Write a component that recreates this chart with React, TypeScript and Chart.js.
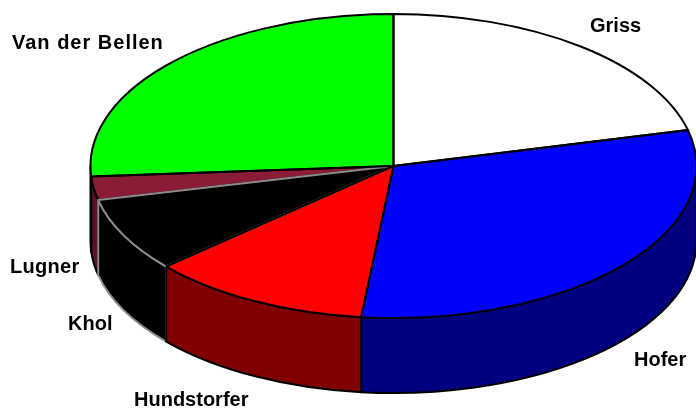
import React, { useEffect, useRef } from "react";
import { Chart, registerables } from "chart.js";

Chart.register(...registerables);

const categories = ["Griss", "Hofer", "Hundstorfer", "Khol", "Lugner", "Van der Bellen"];
const shares = [21.2, 30.5, 11.8, 7.9, 2.5, 26.1];
const topColors = ["#ffffff", "#0000ff", "#ff0000", "#000000", "#8b1c36", "#00ff00"];
const sideColors = ["#808080", "#000080", "#800000", "#000000", "#5a1226", "#008000"];
const edgeColors = ["#000000", "#000000", "#000000", "#8c8c8c", "#000000", "#000000"];
const labelX = [590, 634, 134, 68, 10, 12];
const labelY = [32, 366, 406, 330, 273, 49];
const labelSpacing = [0, 0, 0, 0, 0.3, 1];
const outlineOrder = [0, 1, 4, 3, 2, 5];

const CX = 393.5;
const CY = 166;
const RX = 303;
const RY = 152;
const DEPTH = 75;

const pie3d = {
  id: "pie3d",
  beforeDatasetsDraw(chart: any) {
    const ctx = chart.ctx;
    const arcs = chart.getDatasetMeta(0).data;
    ctx.save();
    outlineOrder.forEach((i) => {
      const arc = arcs[i];
      const a = Math.max(arc.startAngle, 0);
      const b = Math.min(arc.endAngle, Math.PI);
      if (b <= a) return;
      ctx.beginPath();
      ctx.ellipse(CX, CY, RX, RY, 0, a, b);
      ctx.ellipse(CX, CY + DEPTH, RX, RY, 0, b, a, true);
      ctx.closePath();
      ctx.fillStyle = sideColors[i];
      ctx.fill();
      ctx.lineWidth = 2;
      ctx.lineJoin = "round";
      ctx.strokeStyle = edgeColors[i];
      ctx.stroke();
    });
    ctx.restore();
    const arc0 = arcs[0];
    const r = arc0.outerRadius;
    ctx.save();
    ctx.translate(CX, CY);
    ctx.scale(RX / r, RY / r);
    ctx.translate(-arc0.x, -arc0.y);
  },
  afterDatasetsDraw(chart: any) {
    const ctx = chart.ctx;
    ctx.restore();
    const arcs = chart.getDatasetMeta(0).data;
    ctx.save();
    ctx.lineWidth = 2;
    ctx.lineJoin = "round";
    outlineOrder.forEach((i) => {
      const arc = arcs[i];
      ctx.beginPath();
      ctx.moveTo(CX, CY);
      ctx.ellipse(CX, CY, RX, RY, 0, arc.startAngle, arc.endAngle);
      ctx.closePath();
      ctx.strokeStyle = edgeColors[i];
      ctx.stroke();
    });
    ctx.fillStyle = "#000000";
    ctx.font = "bold 20px 'Liberation Sans'";
    ctx.textBaseline = "alphabetic";
    ctx.textAlign = "left";
    categories.forEach((name, i) => {
      ctx.letterSpacing = labelSpacing[i] + "px";
      ctx.fillText(name, labelX[i], labelY[i]);
    });
    ctx.restore();
  },
};

export default function App() {
  const ref = useRef<HTMLCanvasElement>(null);
  useEffect(() => {
    document.body.style.margin = "0";
    document.body.style.background = "#ffffff";
    const chart = new Chart(ref.current as HTMLCanvasElement, {
      type: "pie",
      data: {
        labels: categories,
        datasets: [{ data: shares, backgroundColor: topColors, borderWidth: 0 }],
      },
      options: {
        animation: false,
        responsive: false,
        layout: { padding: 0 },
        plugins: { legend: { display: false }, tooltip: { enabled: false } },
      },
      plugins: [pie3d],
    } as any);
    return () => chart.destroy();
  }, []);
  return <canvas ref={ref} width={696} height={408} style={{ display: "block" }} />;
}
